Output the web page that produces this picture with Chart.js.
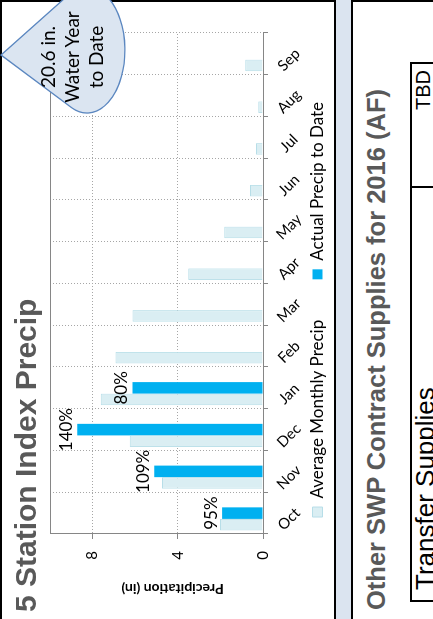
<!DOCTYPE html>
<html>
<head>
<meta charset="utf-8">
<script src="https://cdn.jsdelivr.net/npm/chart.js@4.4.1/dist/chart.umd.min.js"></script>
<style>
  html, body { margin: 0; padding: 0; width: 433px; height: 619px; overflow: hidden; background: #fff; }
  /* the slide is laid out landscape and turned a quarter to the left */
  #stage { position: absolute; left: 0; top: 0; width: 619px; height: 433px; overflow: hidden;
           transform-origin: 0 0; transform: translate(0, 619px) rotate(-90deg);
           background: #dbe4f0; font-family: 'Liberation Sans', Arial, sans-serif; }
  .panel { position: absolute; left: -10px; width: 629px; background: #fff; border: 2px solid #000; box-sizing: border-box; }
  #leftPanel { top: 0; height: 336px; }
  #rightPanel { top: 351px; height: 120px; }
  #chart { position: absolute; left: 0; top: 0; }
  .title { position: absolute; white-space: nowrap; font-weight: bold; color: #595959; }
  #chartTitle { left: 7px; top: 11px; font-size: 30px; line-height: 30px; }
  #swpTitle { left: 9px; top: 363px; font-size: 25.5px; line-height: 26px; }
  #tbl { position: absolute; left: 17px; top: 410px; width: 540px; height: 80px; border: 2px solid #000; box-sizing: border-box; }
  #tbl .div { position: absolute; left: 412px; top: 0; width: 2px; height: 100%; background: #000; }
  #tbl .name { position: absolute; left: 10px; top: 0; font-size: 26px; line-height: 26px; color: #000; white-space: nowrap; }
  #tbl .val { position: absolute; right: 6px; top: 1px; font-size: 20px; line-height: 20px; color: #000; }
  #drop { position: absolute; left: 0; top: 0; }
</style>
</head>
<body>
<div id="stage">
  <div class="panel" id="leftPanel"></div>
  <div class="panel" id="rightPanel"></div>
  <canvas id="chart" width="619" height="336"></canvas>
  <div class="title" id="chartTitle">5 Station Index Precip</div>
  <div class="title" id="swpTitle">Other SWP Contract Supplies for 2016 (AF)</div>
  <div id="tbl">
    <div class="div"></div>
    <div class="name">Transfer Supplies</div>
    <div class="val">TBD</div>
  </div>
  <svg id="drop" width="619" height="433">
    <path d="M 564 1 L 511.5 71.4 A 63 38 0 1 0 624.5 69 Z" fill="#dbe5f1" stroke="#5b87c0" stroke-width="1.3"/>
    <g font-family="Lato" font-size="19" fill="#000" text-anchor="middle">
      <text x="562" y="55">20.6 in.</text>
      <text x="562" y="79">Water Year</text>
      <text x="562" y="103">to Date</text>
    </g>
  </svg>
</div>

<script>
(() => {

    const months = ['Oct', 'Nov', 'Dec', 'Jan', 'Feb', 'Mar', 'Apr', 'May', 'Jun', 'Jul', 'Aug', 'Sep'];
    const averagePrecip = [2.02, 4.74, 6.26, 7.62, 6.93, 6.13, 3.51, 1.82, 0.61, 0.33, 0.22, 0.83];
    const actualPrecip = [1.92, 5.10, 8.72, 6.13, null, null, null, null, null, null, null, null];
    const pctOfAverage = ['95%', '109%', '140%', '80%', null, null, null, null, null, null, null, null];
    // the original chart keeps a third, empty slot beside each pair of bars
    const emptySlot = [null, null, null, null, null, null, null, null, null, null, null, null];
    const valueTicks = [0, 4, 8];
    const legendOrder = [0, 2, 1];

    Chart.defaults.font.family = 'Lato';
    Chart.defaults.color = '#000';

    const extras = {
        id: 'extras',
        afterDatasetsDraw(chart) {
            const ctx = chart.ctx;
            const meta = chart.getDatasetMeta(1);
            ctx.save();
            ctx.font = '17px Lato';
            ctx.fillStyle = '#000';
            ctx.textAlign = 'center';
            ctx.textBaseline = 'alphabetic';
            meta.data.forEach((bar, i) => {
                if (!pctOfAverage[i]) return;
                ctx.fillText(pctOfAverage[i], bar.x, bar.y - 5);
            });
            ctx.restore();
        },
        afterDraw(chart) {
            const {ctx, chartArea, scales} = chart;
            ctx.save();

            // solid top edge of the plot
            const top = Math.round(chartArea.top) + 0.5;
            ctx.strokeStyle = '#868686';
            ctx.lineWidth = 1;
            ctx.beginPath();
            ctx.moveTo(chartArea.left, top);
            ctx.lineTo(chartArea.right, top);
            ctx.stroke();

            // slanted month labels
            ctx.font = '15px Lato';
            ctx.fillStyle = '#000';
            ctx.textAlign = 'center';
            ctx.textBaseline = 'middle';
            months.forEach((m, i) => {
                const x = scales.x.getPixelForTick(i);
                ctx.save();
                ctx.translate(x - 6, chartArea.bottom + 26);
                ctx.rotate(Math.PI / 4);
                ctx.fillText(m, 0, 0);
                ctx.restore();
            });

            // value axis title
            ctx.font = 'bold 14px Lato';
            ctx.save();
            ctx.translate(30, (chartArea.top + chartArea.bottom) / 2 + 16);
            ctx.rotate(-Math.PI / 2);
            ctx.fillText('Precipitation (in)', 0, 0);
            ctx.restore();

            ctx.restore();
        }
    };

    new Chart(document.getElementById('chart'), {
        type: 'bar',
        data: {
            labels: months,
            datasets: [{
                label: 'Average Monthly Precip',
                data: averagePrecip,
                backgroundColor: '#daeef3',
                borderColor: '#b7dee8',
                borderWidth: 1
            }, {
                label: 'Actual Precip to Date',
                data: actualPrecip,
                backgroundColor: '#00b0f0',
                borderWidth: 0
            }, {
                label: '',
                data: emptySlot,
                backgroundColor: 'rgba(0,0,0,0)',
                borderWidth: 0
            }]
        },
        options: {
            responsive: false,
            animation: false,
            devicePixelRatio: 1,
            categoryPercentage: 0.83,
            barPercentage: 1.0,
            layout: { padding: { top: 50, left: 0, right: 0, bottom: 0 } },
            plugins: {
                title: { display: false },
                tooltip: { enabled: false },
                legend: {
                    position: 'bottom',
                    labels: {
                        boxWidth: 10,
                        boxHeight: 10,
                        padding: 11,
                        color: '#000',
                        font: { size: 17 },
                        sort: (a, b) => legendOrder.indexOf(a.datasetIndex) - legendOrder.indexOf(b.datasetIndex)
                    }
                }
            },
            scales: {
                x: {
                    afterFit: (scale) => { scale.height = 35; },
                    ticks: { display: false },
                    grid: {
                        offset: true,
                        color: (c) => c.index === 0 ? 'rgba(0,0,0,0)' : '#a6a6a6',
                        tickLength: 5,
                        tickColor: '#868686'
                    },
                    border: { display: true, color: '#868686', dash: [1, 2] }
                },
                y: {
                    min: 0,
                    max: 10,
                    afterFit: (scale) => { scale.width = 85; },
                    afterBuildTicks: (scale) => { scale.ticks = valueTicks.map(v => ({ value: v })); },
                    ticks: { padding: 12, color: '#000', font: { size: 15 } },
                    grid: {
                        color: (c) => c.tick && c.tick.value === 0 ? 'rgba(0,0,0,0)' : '#a6a6a6',
                        tickLength: 5,
                        tickColor: '#868686'
                    },
                    border: { display: true, color: '#868686', dash: [1, 2] }
                },
                yPad: {
                    type: 'linear',
                    position: 'right',
                    afterFit: (scale) => { scale.width = 33; },
                    grid: { display: false },
                    ticks: { display: false },
                    border: { display: false }
                }
            }
        },
        plugins: [extras]
    });

})();
</script>
</body>
</html>
